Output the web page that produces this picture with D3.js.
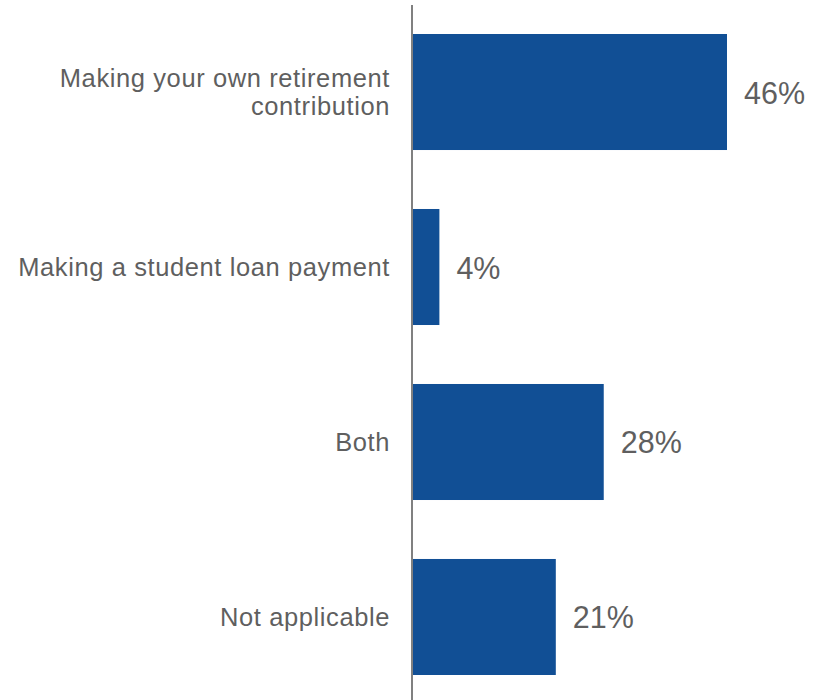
<!DOCTYPE html>
<html>
<head>
<meta charset="utf-8">
<script src="https://cdn.jsdelivr.net/npm/d3@7"></script>
<style>
  html, body { margin: 0; padding: 0; background: #fff; }
  svg { display: block; }
</style>
</head>
<body>
<svg id="chart" width="819" height="700"></svg>
<script>
const categories = [
  ["Making your own retirement", "contribution"],
  ["Making a student loan payment"],
  ["Both"],
  ["Not applicable"]
];
const categoryKeys = ["Making your own retirement contribution", "Making a student loan payment", "Both", "Not applicable"];
const values = [46, 4, 28, 21];
const valueLabels = ["46%", "4%", "28%", "21%"];

const svg = d3.select("#chart");
const fontFamily = "'Liberation Sans', Arial, sans-serif";

const x = d3.scaleLinear().domain([0, 46]).range([412, 727]);
const y = d3.scaleBand().domain(categoryKeys).range([4.25, 704.75])
  .paddingInner(0.337).paddingOuter(0.17);

// bars
svg.selectAll("rect.bar").data(values).join("rect")
  .attr("class", "bar")
  .attr("x", x(0))
  .attr("y", (d, i) => y(categoryKeys[i]))
  .attr("width", d => x(d) - x(0))
  .attr("height", y.bandwidth())
  .attr("fill", "#114F95");

// axis
const axis = svg.append("g").attr("transform", `translate(${x(0)},0)`)
  .call(d3.axisLeft(y).tickSize(0).tickFormat(""));
axis.select(".domain").attr("stroke", "#808080").attr("stroke-width", 2)
  .attr("d", "M0,5V700");

// category labels
const labelSize = 25.5;
const lineGap = 28.5;
svg.selectAll("text.cat").data(categories).join("text")
  .attr("class", "cat")
  .attr("text-anchor", "end")
  .attr("font-family", fontFamily)
  .attr("font-size", labelSize)
  .attr("letter-spacing", 0.6)
  .attr("fill", "#5f5f5f")
  .each(function(lines, i) {
    const cy = y(categoryKeys[i]) + y.bandwidth() / 2;
    const start = cy - (lines.length - 1) * lineGap / 2 + 9;
    d3.select(this).selectAll("tspan").data(lines).join("tspan")
      .attr("x", 390)
      .attr("y", (l, j) => start + j * lineGap)
      .text(l => l);
  });

// value labels
const valSize = 30.5;
svg.selectAll("text.val").data(values).join("text")
  .attr("class", "val")
  .attr("font-family", fontFamily)
  .attr("font-size", valSize)
  .attr("fill", "#5f5f5f")
  .attr("x", d => x(d) + 17)
  .attr("y", (d, i) => y(categoryKeys[i]) + y.bandwidth() / 2 + 11.5)
  .text((d, i) => valueLabels[i]);
</script>
</body>
</html>
